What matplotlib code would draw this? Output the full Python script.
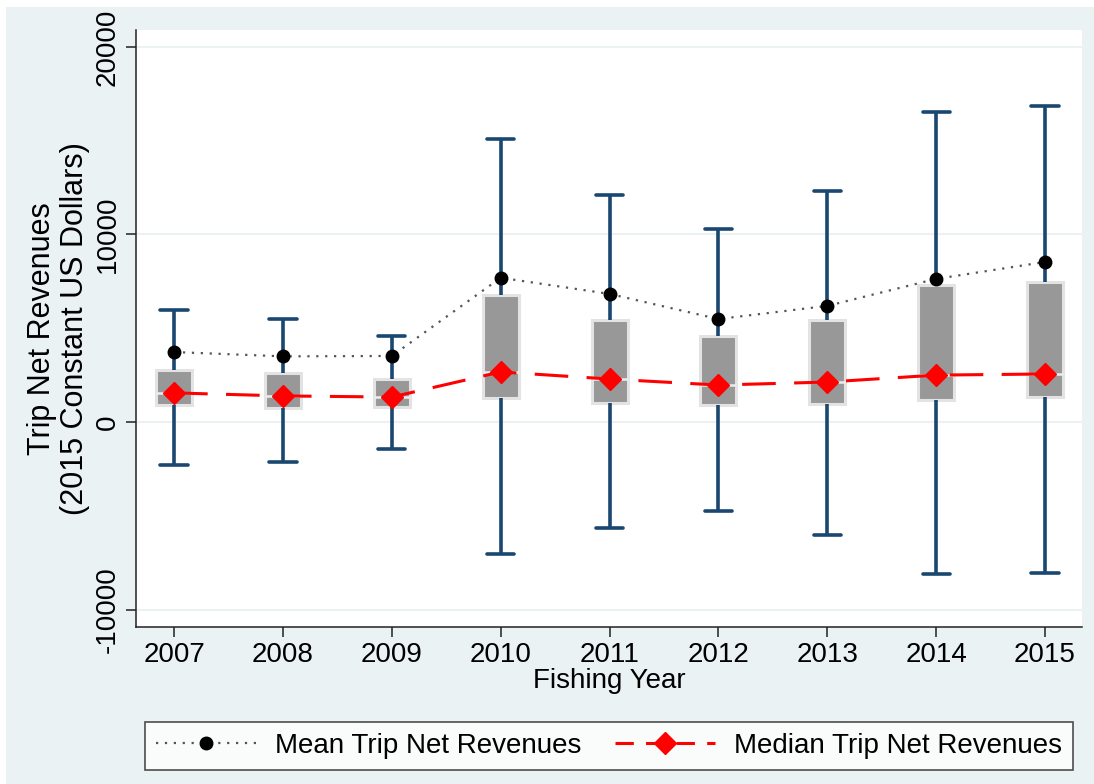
import matplotlib.pyplot as plt
from matplotlib.patches import Rectangle
from matplotlib.lines import Line2D

plt.rcParams['font.family'] = ['Liberation Sans', 'DejaVu Sans']

years = [2007, 2008, 2009, 2010, 2011, 2012, 2013, 2014, 2015]
whisker_lo = [-2300, -2130, -1440, -7040, -5650, -4750, -6030, -8100, -8050]
q1 = [900, 750, 800, 1300, 1010, 900, 960, 1170, 1330]
median = [1550, 1390, 1330, 2670, 2290, 1970, 2130, 2500, 2560]
q3 = [2750, 2610, 2290, 6750, 5440, 4590, 5440, 7300, 7470]
whisker_hi = [5990, 5490, 4590, 15090, 12100, 10290, 12320, 16530, 16850]
mean = [3730, 3500, 3520, 7690, 6830, 5490, 6190, 7630, 8530]

bg = '#EAF2F3'
navy = '#1A476F'

fig = plt.figure(figsize=(10.94, 7.84), dpi=100, facecolor='white')
fig.patches.append(Rectangle((6 / 1094, 0), 1, 1 - 7 / 784, transform=fig.transFigure,
                             facecolor=bg, edgecolor='none', zorder=-10))
ax = fig.add_axes([136 / 1094, 1 - 627 / 784, (1082 - 136) / 1094, (627 - 30) / 784])

stats = []
for i in range(len(years)):
    stats.append({'whislo': whisker_lo[i], 'q1': q1[i], 'med': median[i],
                  'q3': q3[i], 'whishi': whisker_hi[i]})

ax.bxp(stats, positions=years, widths=0.33, capwidths=0.25, showfliers=False,
       patch_artist=True, manage_ticks=False,
       boxprops=dict(facecolor='#989898', edgecolor='#E3E3E3', linewidth=2.2),
       whiskerprops=dict(color=navy, linewidth=2.6, solid_capstyle='butt'),
       capprops=dict(color=navy, linewidth=2.6, solid_capstyle='round'),
       medianprops=dict(color='#EDEDED', linewidth=1.8),
       zorder=2)

mean_style = dict(color='#555555', linestyle=(0, (1, 3)), linewidth=1.6,
                  marker='o', markersize=9, markerfacecolor='black',
                  markeredgecolor='black')
median_style = dict(color='red', linestyle=(0, (11, 6)), linewidth=2.2,
                    marker='D', markersize=11, markerfacecolor='red',
                    markeredgecolor='red')
ax.plot(years, mean, zorder=4, **mean_style)
ax.plot(years, median, zorder=5, **median_style)

ax.set_xlim(2006.65, 2015.34)
ax.set_ylim(-10930, 20900)
ax.set_xticks(years)
ax.set_xticklabels([str(y) for y in years], fontsize=20)
ax.set_yticks([-10000, 0, 10000, 20000])
ax.set_yticklabels(['-10000', '0', '10000', '20000'], fontsize=20,
                   rotation=90, va='center')
ax.tick_params(axis='both', length=7, width=1.1, color='#222222', pad=4)
ax.grid(axis='y', color=bg, linewidth=1.5)
ax.set_axisbelow(True)

for side in ['top', 'right']:
    ax.spines[side].set_visible(False)
for side in ['left', 'bottom']:
    ax.spines[side].set_linewidth(1.1)
    ax.spines[side].set_color('#222222')

ax.set_xlabel('Fishing Year', fontsize=20, labelpad=0)
ax.set_ylabel('Trip Net Revenues\n(2015 Constant US Dollars)', fontsize=22,
              linespacing=1.1)
ax.yaxis.set_label_coords(-0.049, 0.5)

# legend keys: short dash / marker / dashes, as in the plotted series
handles = [Line2D([], [], **mean_style),
           Line2D([], [], **dict(median_style, linestyle=(0, (6, 4))))]
leg = fig.legend(handles, ['Mean Trip Net Revenues', 'Median Trip Net Revenues'],
                 loc='center', bbox_to_anchor=((146 + 1072) / 2 / 1094, 1 - 746 / 784),
                 ncol=2, fontsize=20, frameon=True, fancybox=False,
                 handlelength=3.6, handletextpad=0.7, columnspacing=1.2,
                 borderpad=0.4)
leg.get_frame().set_edgecolor('#222222')
leg.get_frame().set_linewidth(1.2)
leg.get_frame().set_facecolor('white')

fig.savefig('out.png', dpi=100, facecolor=fig.get_facecolor())
